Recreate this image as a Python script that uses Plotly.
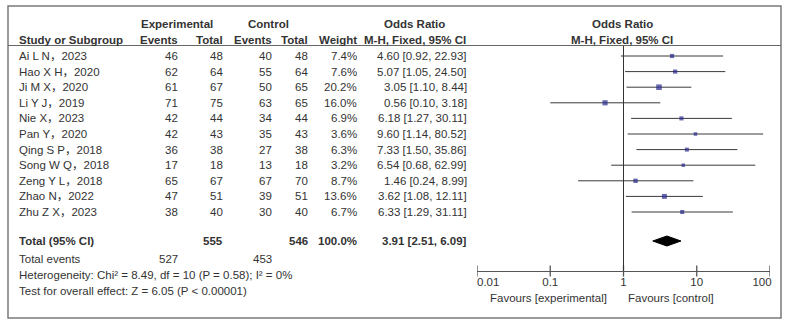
import plotly.graph_objects as go
import math

# ---------------- data ----------------
studies = ["Ai L N，2023", "Hao X H，2020", "Ji M X，2020", "Li Y J，2019", "Nie X，2023",
           "Pan Y，2020", "Qing S P，2018", "Song W Q，2018", "Zeng Y L，2018",
           "Zhao N，2022", "Zhu Z X，2023"]
exp_events = [46, 62, 61, 71, 42, 42, 36, 17, 65, 47, 38]
exp_total = [48, 64, 67, 75, 44, 43, 38, 18, 67, 51, 40]
ctl_events = [40, 55, 50, 63, 34, 35, 27, 13, 67, 39, 30]
ctl_total = [48, 64, 65, 65, 44, 43, 38, 18, 70, 51, 40]
weights = [7.4, 7.6, 20.2, 16.0, 6.9, 3.6, 6.3, 3.2, 8.7, 13.6, 6.7]
odds = [4.60, 5.07, 3.05, 0.56, 6.18, 9.60, 7.33, 6.54, 1.46, 3.62, 6.33]
ci_lo = [0.92, 1.05, 1.10, 0.10, 1.27, 1.14, 1.50, 0.68, 0.24, 1.08, 1.29]
ci_hi = [22.93, 24.50, 8.44, 3.18, 30.11, 80.52, 35.86, 62.99, 8.99, 12.11, 31.11]

total_exp = 555
total_ctl = 546
total_exp_events = 527
total_ctl_events = 453
total_weight = "100.0%"
pooled_or, pooled_lo, pooled_hi = 3.91, 2.51, 6.09
heterogeneity = "Heterogeneity: Chi² = 8.49, df = 10 (P = 0.58); I² = 0%"
overall = "Test for overall effect: Z = 6.05 (P < 0.00001)"
tick_vals = [0.01, 0.1, 1, 10, 100]
tick_text = ["0.01", "0.1", "1", "10", "100"]

# ---------------- layout helpers ----------------
W, H = 787, 324
FONT = "Liberation Sans, Arial, Noto Sans CJK SC, sans-serif"
TXT = "#333333"
FS = 11.5
row0, dy = 56.0, 15.6
rows_y = [row0 + i * dy for i in range(len(studies))]
y_total = 241
y_tev = 258.5
y_het = 275
y_test = 291
y_axis = 271

NB = "\u00a0"
# end labels sit inside the axis ends (left-aligned at 0.01, right-aligned at 100)
tick_text_disp = [NB * 7 + tick_text[0]] + tick_text[1:-1] + [tick_text[-1] + NB * 5]


def px(x):
    return x / W


anns = []


def add_text(x, y, text, align="right", bold=False, size=FS):
    anns.append(dict(x=px(x), y=y, xref="paper", yref="y", text=("<b>%s</b>" % text) if bold else text,
                     showarrow=False, xanchor=align, yanchor="middle", borderpad=0, borderwidth=0,
                     font=dict(family=FONT, size=size, color=TXT)))


# headers
add_text(177, 24, "Experimental", "center", True)
add_text(268, 24, "Control", "center", True)
add_text(414, 24, "Odds Ratio", "center", True)
add_text(622, 24, "Odds Ratio", "center", True)
add_text(19, 40, "Study or Subgroup", "left", True)
add_text(178, 40, "Events", "right", True)
add_text(223, 40, "Total", "right", True)
add_text(272, 40, "Events", "right", True)
add_text(308, 40, "Total", "right", True)
add_text(357, 40, "Weight", "right", True)
add_text(415, 40, "M-H, Fixed, 95% CI", "center", True)
add_text(622, 40, "M-H, Fixed, 95% CI", "center", True)

# study rows
for i, s in enumerate(studies):
    y = rows_y[i]
    add_text(19, y, s, "left")
    add_text(178, y, str(exp_events[i]))
    add_text(223, y, str(exp_total[i]))
    add_text(272, y, str(ctl_events[i]))
    add_text(308, y, str(ctl_total[i]))
    add_text(357, y, "%.1f%%" % weights[i])
    add_text(467, y, "%.2f [%.2f, %.2f]" % (odds[i], ci_lo[i], ci_hi[i]))

# totals
add_text(19, y_total, "Total (95% CI)", "left", True)
add_text(223, y_total, str(total_exp), "right", True)
add_text(308, y_total, str(total_ctl), "right", True)
add_text(357, y_total, total_weight, "right", True)
add_text(467, y_total, "%.2f [%.2f, %.2f]" % (pooled_or, pooled_lo, pooled_hi), "right", True)
add_text(19, y_tev, "Total events", "left")
add_text(178, y_tev, str(total_exp_events))
add_text(272, y_tev, str(total_ctl_events))
add_text(19, y_het, heterogeneity, "left")
add_text(19, y_test, overall, "left")

# favours labels
add_text(607, 298, "Favours [experimental]", "right")
add_text(628, 298, "Favours [control]", "left")

fig = go.Figure()

# CI lines
for i in range(len(studies)):
    fig.add_trace(go.Scatter(x=[ci_lo[i], ci_hi[i]], y=[rows_y[i], rows_y[i]], mode="lines",
                             line=dict(color="#3a3a3a", width=1), hoverinfo="skip", showlegend=False))

# squares (size grows with weight)
fig.add_trace(go.Scatter(x=odds, y=rows_y, mode="markers",
                         marker=dict(symbol="square", color="#2a2a8e",
                                     size=[2.0 + 0.8 * math.sqrt(w) for w in weights], line=dict(width=0)),
                         showlegend=False))

# diamond
dh = 5
fig.add_trace(go.Scatter(x=[pooled_lo, pooled_or, pooled_hi, pooled_or, pooled_lo],
                         y=[y_total, y_total - dh, y_total, y_total + dh, y_total],
                         mode="lines", fill="toself", fillcolor="black",
                         line=dict(color="black", width=1), showlegend=False))

# tick marks crossing the axis line
fig.add_trace(go.Scatter(x=tick_vals, y=[y_axis] * len(tick_vals), mode="markers",
                         marker=dict(symbol="line-ns-open", size=8, color="#555555",
                                     line=dict(color="#555555", width=1.3)),
                         showlegend=False, hoverinfo="skip"))

shapes = [
    # outer border
    dict(type="rect", xref="paper", yref="y", x0=px(8), x1=px(781), y0=6, y1=318,
         line=dict(color="#7a7a7a", width=1.5)),
    # header underline
    dict(type="line", xref="paper", yref="y", x0=px(8), x1=px(781), y0=45.5, y1=45.5,
         line=dict(color="#666666", width=1)),
    # line of no effect
    dict(type="line", xref="x", yref="y", x0=1, x1=1, y0=46, y1=y_axis,
         line=dict(color="#333333", width=1)),
]

fig.update_layout(
    template="none",
    width=W, height=H, margin=dict(l=0, r=0, t=0, b=0, pad=0, autoexpand=False),
    paper_bgcolor="white", plot_bgcolor="white",
    showlegend=False, annotations=anns, shapes=shapes,
    xaxis=dict(type="log", range=[-2, 2], domain=[px(477), px(770)], anchor="free",
               position=1 - y_axis / H, showline=True, linecolor="#555555", linewidth=1.2,
               ticks="", tickvals=tick_vals, ticktext=tick_text_disp, showgrid=False, zeroline=False,
               automargin=False, ticklabeloverflow="allow",
               tickfont=dict(family=FONT, size=FS, color=TXT)),
    yaxis=dict(range=[H, 0], domain=[0, 1], visible=False, showgrid=False, zeroline=False,
               automargin=False),
)

fig.write_html("out.html")
